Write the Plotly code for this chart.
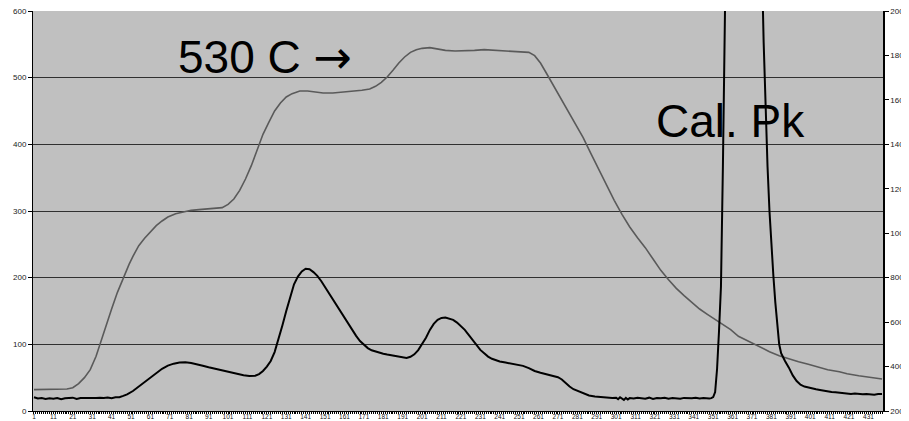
import plotly.graph_objects as go

# ---- data ----
n_categories = 438

temp_x = [1, 5, 10, 15, 18, 21, 24, 27, 30, 33, 35, 38, 41, 44, 47, 50, 52, 55, 58, 61,
          64, 67, 70, 74, 78, 82, 86, 90, 94, 98, 101, 104, 107, 110, 113, 116, 119, 122,
          125, 128, 131, 134, 138, 142, 146, 150, 155, 160, 165, 170, 174, 177, 180, 183,
          186, 189, 192, 195, 198, 201, 205, 209, 213, 218, 223, 228, 233, 238, 243, 248,
          253, 256, 259, 262, 265, 268, 272, 276, 280, 284, 288, 292, 296, 300, 304, 308,
          312, 316, 320, 324, 328, 332, 336, 340, 344, 348, 352, 356, 360, 364, 368, 372,
          376, 380, 385, 390, 395, 400, 405, 410, 416, 420, 426, 432, 438]
temp_y = [32, 32, 32, 32, 33, 35, 41, 50, 62, 82, 100, 128, 153, 178, 200, 220, 232, 248,
          259, 269, 278, 285, 291, 296, 299, 301, 302, 303, 303, 305, 310, 318, 331, 348,
          368, 390, 415, 433, 450, 462, 471, 476, 480, 480, 479, 477, 477, 478, 479, 481,
          483, 487, 493, 501, 511, 522, 531, 538, 542, 544, 545, 543, 541, 540, 540, 541,
          542, 541, 540, 539, 539, 538, 533, 522, 507, 492, 472, 452, 431, 410, 386, 362,
          339, 316, 295, 276, 260, 245, 228, 211, 197, 184, 173, 163, 153, 145, 137, 130,
          122, 112, 106, 100, 94, 89, 83, 78, 74, 70, 66, 62, 59, 56, 53, 50, 48]

sig_x = [1, 3, 5, 7, 9, 11, 13, 15, 17, 19, 21, 23, 25, 27, 29, 31, 33, 35, 37, 39, 41,
         43, 45, 47, 49, 52, 55, 58, 61, 64, 67, 70, 73, 76, 79, 82, 85, 88, 91, 94, 97,
         100, 103, 106, 109, 112, 115, 117, 119, 121, 123, 125, 127, 129, 131, 133, 135,
         137, 139, 141, 143, 145, 147, 149, 151, 153, 155, 157, 159, 161, 163, 165, 167,
         169, 171, 173, 175, 177, 179, 181, 183, 185, 187, 189, 191, 193, 195, 197, 199,
         201, 203, 205, 207, 209, 211, 213, 215, 217, 219, 221, 223, 225, 227, 229, 231,
         233, 235, 237, 239, 241, 244, 247, 250, 253, 256, 259, 262, 265, 268, 271, 273,
         275, 277, 279, 281, 283, 285, 287, 290, 293, 296, 299, 301, 302, 303, 304, 305,
         306, 307, 308, 310, 312, 314, 316, 318, 320, 322, 324, 326, 328, 330, 332, 334,
         336, 338, 340, 342, 344, 346, 348, 349, 350, 351, 352, 353, 354, 355, 356, 357,
         358, 360, 362, 364, 366, 368, 370, 372, 374, 375, 376, 377, 378, 379, 380, 381,
         382, 383, 384, 385, 386, 387, 388, 390, 392, 394, 396, 398, 400, 402, 404, 406,
         408, 410, 412, 414, 416, 418, 420, 422, 424, 426, 428, 430, 432, 434, 436, 438]
sig_y = [262, 256, 258, 254, 257, 255, 258, 253, 257, 259, 260, 254, 258, 258, 257, 259,
         258, 260, 258, 261, 257, 262, 262, 268, 275, 290, 310, 330, 348, 370, 390, 404,
         413, 418, 419, 416, 411, 404, 397, 391, 385, 378, 372, 366, 361, 358, 359, 366,
         380, 400, 425, 465, 520, 585, 650, 715, 770, 805, 828, 840, 838, 825, 808, 785,
         757, 728, 703, 677, 650, 620, 590, 563, 538, 515, 497, 483, 473, 467, 462, 458,
         454, 451, 448, 444, 440, 439, 444, 455, 474, 500, 530, 565, 592, 610, 619, 621,
         617, 610, 598, 583, 565, 543, 520, 496, 475, 460, 445, 435, 428, 423, 418, 414,
         409, 403, 393, 380, 372, 366, 359, 352, 342, 325, 310, 298, 291, 283, 276, 270,
         265, 262, 261, 259, 260, 253, 262, 256, 250, 259, 252, 258, 256, 260, 258, 255,
         260, 254, 258, 257, 260, 255, 258, 257, 255, 259, 258, 257, 260, 256, 259, 255,
         256, 258, 263, 285, 390, 560, 760, 1300, 2300, 3500, 5500, 7000, 7800, 7800, 7000,
         5800, 4500, 3200, 2650, 2250, 1860, 1560, 1300, 1100, 940, 810, 690, 580, 500,
         460, 440, 425, 395, 360, 335, 318, 310, 305, 301, 298, 295, 291, 289, 286, 284,
         282, 281, 278, 277, 279, 276, 275, 276, 274, 273, 276, 277]

left_ticks = [0, 100, 200, 300, 400, 500, 600]
right_ticks = [200, 400, 600, 800, 1000, 1200, 1400, 1600, 1800, 2000]

FONT = "Arial, 'Liberation Sans', sans-serif"

fig = go.Figure()
fig.add_trace(go.Scatter(x=temp_x, y=temp_y, mode="lines", yaxis="y",
                         line=dict(color="#5a5a5a", width=1.6), showlegend=False))
fig.add_trace(go.Scatter(x=sig_x, y=sig_y, mode="lines", yaxis="y2",
                         line=dict(color="black", width=2), showlegend=False))

fig.add_annotation(text="530 C <span style=\"font-family:'DejaVu Sans'\">\u2192</span>",
                   xref="paper", yref="paper", x=0.168, y=0.885,
                   xanchor="left", yanchor="middle", showarrow=False,
                   font=dict(family=FONT, size=46, color="black"))
fig.add_annotation(text="Cal. Pk", xref="paper", yref="paper", x=0.731, y=0.725,
                   xanchor="left", yanchor="middle", showarrow=False,
                   font=dict(family=FONT, size=46, color="black"))

# the page body adds an 8px offset, so the figure is sized to end at the window edge
fig.update_layout(
    width=901, height=413,
    margin=dict(l=25, r=26, t=3, b=10),
    paper_bgcolor="white", plot_bgcolor="#c0c0c0",
    font=dict(family=FONT, size=7, color="#222"),
    xaxis=dict(range=[0.5, n_categories + 0.5], tickmode="linear", tick0=1, dtick=10,
               ticks="outside", ticklen=2, tickcolor="black", showgrid=False,
               showline=True, linecolor="black", linewidth=1, zeroline=False,
               tickfont=dict(size=6.5, color="#222"), ticklabelstandoff=-3,
               ticklabeloverflow="allow", automargin=False,
               minor=dict(tickmode="linear", tick0=1, dtick=1, ticks="outside",
                          ticklen=2, tickcolor="black", showgrid=False)),
    yaxis=dict(range=[0, 600], tickmode="array", tickvals=left_ticks,
               ticks="outside", ticklen=4, tickcolor="black", showgrid=True,
               gridcolor="#303030", gridwidth=1, showline=True, linecolor="black",
               linewidth=1, zeroline=False, tickfont=dict(size=8, color="#222"),
               ticklabeloverflow="allow", automargin=False),
    yaxis2=dict(range=[200, 2000], tickmode="array", tickvals=right_ticks,
                overlaying="y", side="right", ticks="outside", ticklen=4,
                tickcolor="black", showgrid=False, showline=True, linecolor="black",
                linewidth=1.5, zeroline=False, tickfont=dict(size=8, color="#222"),
                ticklabeloverflow="allow", automargin=False),
)

fig.write_html("out.html")
